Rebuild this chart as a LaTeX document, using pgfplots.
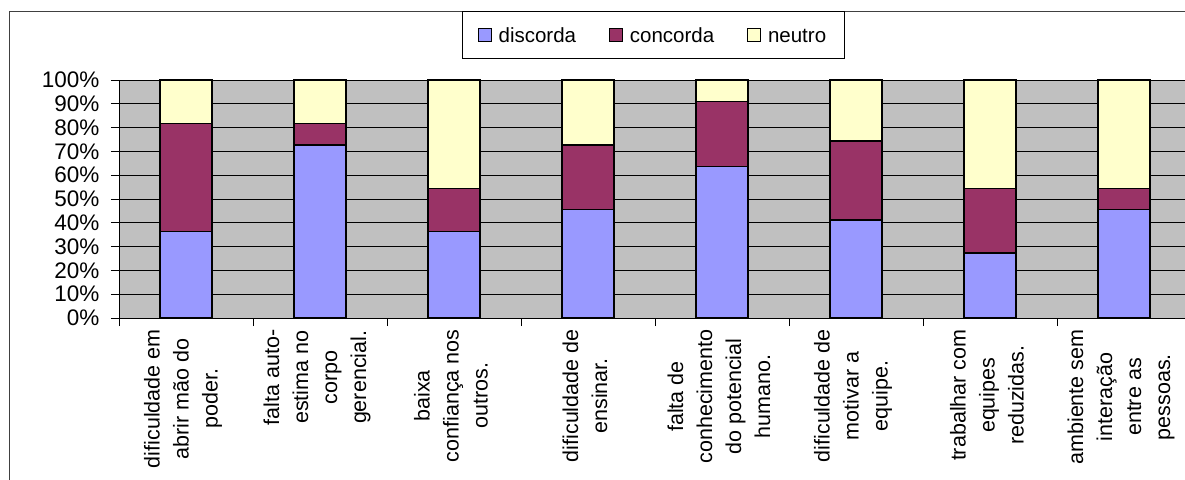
\documentclass[border=0pt]{standalone}
\usepackage{pgfplots}
\pgfplotsset{compat=1.18}
\usepackage{pgfplotstable}
\usepackage{fontspec}
\setmainfont{Liberation Sans}
\definecolor{cdis}{HTML}{9999FF}
\definecolor{ccon}{HTML}{993366}
\definecolor{cneu}{HTML}{FFFFCC}
\definecolor{cbg}{HTML}{C0C0C0}
\pgfplotstableread{
x discorda concorda neutro
0 36.36 45.45 18.19
1 72.73 9.09 18.18
2 36.36 18.18 45.46
3 45.45 27.27 27.28
4 63.64 27.27 9.09
5 41.2 33.2 25.6
6 27.27 27.27 45.46
7 45.45 9.09 45.46
}\datatable
\begin{document}
\begin{tikzpicture}
\useasboundingbox (0,0) rectangle (1185pt,479pt);
\draw[line width=1pt, black!75] (9pt,-20pt) rectangle (1200pt,467pt);
\begin{axis}[
  at={(119pt,161pt)}, anchor=south west,
  scale only axis,
  x=134pt, y=2.38pt,
  xmin=-0.5, xmax=7.455, ymin=0, ymax=100,
  ybar stacked, bar width=52pt,
  axis background/.style={fill=cbg},
  axis x line*=bottom, axis y line*=left,
  axis line style={black, line width=0.9pt},
  ymajorgrids, grid style={black, line width=0.8pt},
  tick align=outside,
  major tick length=8pt, minor tick length=8pt,
  ytick={0,10,...,100},
  yticklabel={\pgfmathprintnumber{\tick}\%},
  /pgf/number format/assume math mode=true,
  y tick label style={font=\fontsize{22.5}{27}\selectfont, xshift=-8pt},
  ytick style={black, line width=0.9pt},
  xtick={0,...,7},
  major x tick style={draw=none},
  minor xtick={-0.5,0.5,...,6.5},
  minor x tick style={black, line width=0.9pt},
  xticklabels={
    {dificuldade em\\abrir mão do\\poder.},
    {falta auto-\\estima no\\corpo\\gerencial.},
    {baixa\\confiança nos\\outros.},
    {dificuldade de\\ensinar.},
    {falta de\\conhecimento\\do potencial\\humano.},
    {dificuldade de\\motivar a\\equipe.},
    {trabalhar com\\equipes\\reduzidas.},
    {ambiente sem\\interação\\entre as\\pessoas.}},
  x tick label style={rotate=90, anchor=east, align=center,
    font=\fontsize{21.5}{29}\selectfont, yshift=3pt},
  legend columns=3,
  legend cell align=left,
  legend style={at={(0.5014,1.191)}, anchor=center,
    draw=black, line width=0.8pt, fill=white,
    font=\fontsize{20.5}{24}\selectfont,
    inner xsep=15pt, inner ysep=14pt,
    nodes={inner xsep=3pt, inner ysep=2pt, text height=15pt, text depth=0pt},
    /tikz/every odd column/.append style={column sep=4pt},
    /tikz/every even column/.append style={column sep=30pt}},
  legend image code/.code={\draw[#1, draw=black, line width=0.8pt] (0pt,-6.5pt) rectangle (13pt,6.5pt);},
]
\addplot[fill=cdis, draw=black, line width=1.2pt] table[x=x, y=discorda] {\datatable};
\addplot[fill=ccon, draw=black, line width=1.2pt] table[x=x, y=concorda] {\datatable};
\addplot[fill=cneu, draw=black, line width=1.2pt] table[x=x, y=neutro] {\datatable};
\legend{discorda, concorda, neutro}
\end{axis}
\end{tikzpicture}
\end{document}
